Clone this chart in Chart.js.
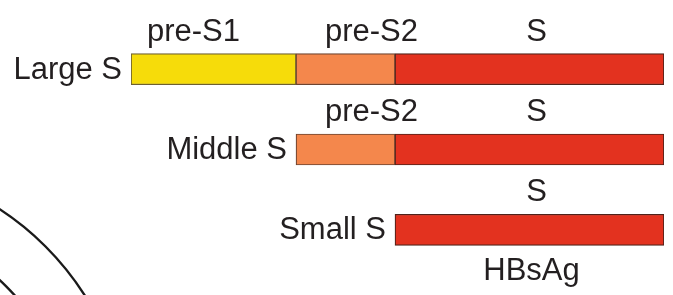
<!DOCTYPE html>
<html>
<head>
<meta charset="utf-8">
<script src="https://cdn.jsdelivr.net/npm/chart.js@4"></script>
<style>
  html, body { margin: 0; padding: 0; background: #fff; }
  #wrap { width: 673px; height: 295px; }
</style>
</head>
<body>
<div id="wrap"><canvas id="hbs-chart" width="673" height="295"></canvas></div>
<script>
// Surface protein domains (x in arbitrary units)
var proteins = ['Large S', 'Middle S', 'Small S'];
var domains = ['pre-S1', 'pre-S2', 'S'];
var preS1 = [[0, 165], null, null];
var preS2 = [[165, 264], [165, 264], null];
var sDomain = [[264, 533], [264, 533], [264, 533]];
var bottomLabel = 'HBsAg';

var FONT = '31px "Liberation Sans", Arial, sans-serif';
var TEXT = '#231f20';

// labels are not exactly centred on their segments in the original
var labelShift = [-20, 26, 7];

var labelPlugin = {
  id: 'hbsLabels',
  beforeDatasetsDraw: function(chart) {
    // part of the particle drawing in the lower left corner
    var ctx = chart.ctx;
    ctx.save();
    ctx.strokeStyle = '#1a1a1a';
    ctx.lineWidth = 2.4;
    [285, 229].forEach(function(r) {
      ctx.beginPath();
      ctx.arc(-156, 448, r, -Math.PI / 2, 0);
      ctx.stroke();
    });
    ctx.restore();
  },
  afterDatasetsDraw: function(chart) {
    var ctx = chart.ctx;
    ctx.save();
    ctx.font = FONT;
    ctx.fillStyle = TEXT;
    proteins.forEach(function(name, i) {
      var first = null;
      chart.data.datasets.forEach(function(ds, d) {
        if (!ds.data[i]) return;
        var bar = chart.getDatasetMeta(d).data[i];
        var top = bar.y - bar.height / 2;
        if (first === null) first = bar;
        ctx.textAlign = 'center';
        ctx.textBaseline = 'alphabetic';
        ctx.fillText(domains[d], (bar.x + bar.base) / 2 + labelShift[d], top - 13);
      });
      ctx.textAlign = 'right';
      ctx.textBaseline = 'middle';
      ctx.fillText(name, Math.min(first.x, first.base) - 9, first.y + 1);
    });
    // HBsAg under the small S bar
    var last = chart.getDatasetMeta(2).data[2];
    ctx.textAlign = 'center';
    ctx.textBaseline = 'top';
    ctx.fillText(bottomLabel, (last.x + last.base) / 2 + 2, last.y + last.height / 2 + 11);
    ctx.restore();
  }
};

var ctx = document.getElementById('hbs-chart').getContext('2d');
var chart = new Chart(ctx, {
  type: 'bar',
  data: {
    labels: proteins,
    datasets: [{
      label: domains[0],
      data: preS1,
      backgroundColor: '#f6dc0a',
      borderColor: '#6e6030'
    }, {
      label: domains[1],
      data: preS2,
      backgroundColor: '#f4874c',
      borderColor: '#6e4430'
    }, {
      label: domains[2],
      data: sDomain,
      backgroundColor: '#e3321f',
      borderColor: '#50221a'
    }]
  },
  options: {
    indexAxis: 'y',
    responsive: false,
    animation: false,
    maintainAspectRatio: false,
    layout: {
      padding: { left: 131, right: 9, top: 29, bottom: 25 }
    },
    datasets: {
      bar: {
        grouped: false,
        barThickness: 31,
        borderWidth: 1.2,
        borderSkipped: false
      }
    },
    scales: {
      x: { display: false, min: 0, max: 533 },
      y: { display: false }
    },
    plugins: {
      legend: { display: false },
      tooltip: { enabled: false }
    }
  },
  plugins: [labelPlugin]
});
</script>
</body>
</html>
